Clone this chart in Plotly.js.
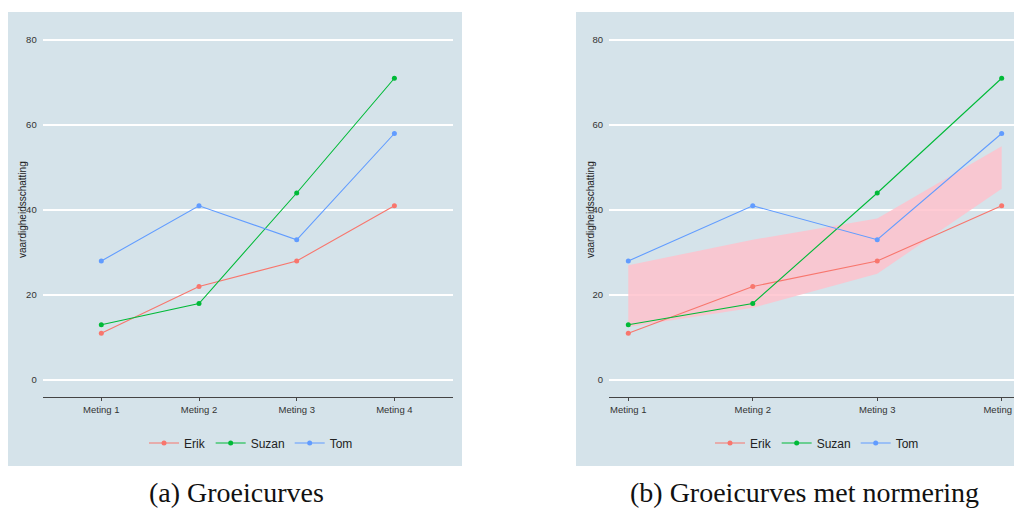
<!DOCTYPE html>
<html>
<head>
<meta charset="utf-8">
<script src="https://cdn.plot.ly/plotly-3.0.1.min.js"></script>
<style>html,body{margin:0;padding:0;background:#fff;}#chart{width:1014px;height:509px;}</style>
</head>
<body>
<div id="chart"></div>
<script>
const metingen = ["Meting 1", "Meting 2", "Meting 3", "Meting 4"];
const erik = [11, 22, 28, 41];
const suzan = [13, 18, 44, 71];
const tom = [28, 41, 33, 58];
const normLaag = [12.5, 17, 25, 45];
const normHoog = [27, 33, 38, 55];
const yTicks = [0, 20, 40, 60, 80];
const captions = ["(a) Groeicurves", "(b) Groeicurves met normering"];
const yTitle = "vaardigheidsschatting";

const W = 1014, H = 509;
const colors = {Erik: "#F8766D", Suzan: "#00BA38", Tom: "#619CFF"};
const bg = "#D5E3EA";
const series = [["Erik", erik], ["Suzan", suzan], ["Tom", tom]];

function px(x) { return x / W; }
function py(y) { return 1 - y / H; }

const traces = [];
// ribbon (right panel)
traces.push({x: metingen, y: normLaag, xaxis: "x2", yaxis: "y2", mode: "lines",
  line: {width: 0, color: "rgba(0,0,0,0)"}, showlegend: false, hoverinfo: "skip"});
traces.push({x: metingen, y: normHoog, xaxis: "x2", yaxis: "y2", mode: "lines",
  fill: "tonexty", fillcolor: "rgba(255,192,203,0.83)",
  line: {width: 0, color: "rgba(0,0,0,0)"}, showlegend: false, hoverinfo: "skip"});

[["x", "y", "legend"], ["x2", "y2", "legend2"]].forEach(([xa, ya, lg]) => {
  series.forEach(([name, vals]) => {
    traces.push({x: metingen, y: vals, xaxis: xa, yaxis: ya, name: name, legend: lg,
      mode: "lines+markers", line: {color: colors[name], width: 1.1},
      marker: {color: colors[name], size: 5}});
  });
});

const yTop = 23, yBot = 397;
const axisY = (dx) => ({
  domain: [py(yBot), py(yTop)], range: [-4, 84], tickvals: yTicks,
  showgrid: true, gridcolor: "#ffffff", gridwidth: 1.4, zeroline: false,
  showline: false, ticks: "", ticklabelstandoff: 5,
  tickfont: {family: "Liberation Sans, Arial, sans-serif", size: 9.5, color: "#333"},
  anchor: dx
});
const axisX = (d, r, ay) => ({
  domain: d, range: r, type: "category", showgrid: false, zeroline: false,
  showline: true, linecolor: "#444", linewidth: 1.1, ticks: "outside", ticklen: 3,
  tickcolor: "#444", tickwidth: 1,
  tickfont: {family: "Liberation Sans, Arial, sans-serif", size: 9.5, color: "#333"},
  anchor: ay
});

const legendBase = {orientation: "h", xanchor: "center", yanchor: "middle",
  y: py(443), bgcolor: "rgba(0,0,0,0)", traceorder: "normal",
  font: {family: "Liberation Sans, Arial, sans-serif", size: 12, color: "#222"},
  itemwidth: 30, tracegroupgap: 0};

const layout = {
  width: W, height: H, margin: {l: 0, r: 0, t: 0, b: 0},
  paper_bgcolor: "#ffffff", plot_bgcolor: "rgba(0,0,0,0)",
  showlegend: true,
  xaxis: axisX([px(42.7), px(453)], [-0.6, 3.6], "y"),
  yaxis: axisY("x"),
  xaxis2: axisX([px(609), 1], [-0.155, 3.099], "y2"),
  yaxis2: axisY("x2"),
  legend: Object.assign({}, legendBase, {x: px(251)}),
  legend2: Object.assign({}, legendBase, {x: px(817)}),
  shapes: [
    {type: "rect", xref: "paper", yref: "paper", x0: px(8), x1: px(462), y0: py(466), y1: py(12),
      fillcolor: bg, line: {width: 0}, layer: "below"},
    {type: "rect", xref: "paper", yref: "paper", x0: px(576), x1: 1, y0: py(466), y1: py(12),
      fillcolor: bg, line: {width: 0}, layer: "below"}
  ],
  annotations: [
    {text: yTitle, xref: "paper", yref: "paper", x: px(22), y: py(210), textangle: -90,
      xanchor: "center", yanchor: "middle",
      showarrow: false, font: {family: "Liberation Sans, Arial, sans-serif", size: 10, color: "#222"}},
    {text: yTitle, xref: "paper", yref: "paper", x: px(590), y: py(210), textangle: -90,
      xanchor: "center", yanchor: "middle",
      showarrow: false, font: {family: "Liberation Sans, Arial, sans-serif", size: 10, color: "#222"}},
    {text: captions[0], xref: "paper", yref: "paper", x: px(236), y: py(492),
      xanchor: "center", yanchor: "middle",
      showarrow: false, font: {family: "Liberation Serif, DejaVu Serif, serif", size: 28, color: "#111"}},
    {text: captions[1], xref: "paper", yref: "paper", x: px(804), y: py(492),
      xanchor: "center", yanchor: "middle",
      showarrow: false, font: {family: "Liberation Serif, DejaVu Serif, serif", size: 28, color: "#111"}}
  ]
};

Plotly.newPlot("chart", traces, layout, {displayModeBar: false, staticPlot: true});
</script>
</body>
</html>
